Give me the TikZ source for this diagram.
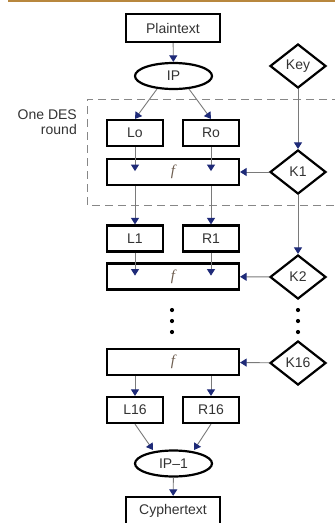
\documentclass[tikz,border=0pt]{standalone}
\usepackage{fontspec}
\setmainfont{Liberation Sans}
\newfontfamily\fserif{Liberation Serif}
\usetikzlibrary{arrows.meta,shapes.geometric}
\definecolor{gold}{HTML}{B8873E}
\definecolor{navy}{HTML}{1E2A78}
\definecolor{lgray}{HTML}{7A7A7A}
\definecolor{txt}{HTML}{333333}
\definecolor{fcol}{HTML}{6E5E50}
\begin{document}
\begin{tikzpicture}[x=1pt,y=-1pt,
  box/.style={draw=black,line width=2.2pt,rectangle,inner sep=0pt,text=txt,font=\fontsize{14}{16}\selectfont},
  sbox/.style={box,minimum width=56pt,minimum height=26pt},
  fbox/.style={box,minimum width=132pt,minimum height=26pt,font=\fserif\itshape\fontsize{15}{16}\selectfont,text=fcol},
  tbox/.style={box,minimum width=94pt,minimum height=28pt},
  ell/.style={draw=black,line width=2.2pt,ellipse,inner sep=0pt,minimum width=77pt,minimum height=26pt,text=txt,font=\fontsize{14}{16}\selectfont},
  dia/.style={draw=black,line width=2.2pt,diamond,inner sep=0pt,minimum width=56pt,minimum height=44pt,text=txt,font=\fontsize{14}{16}\selectfont},
  conn/.style={draw=lgray,line width=0.9pt,-{Triangle[width=8pt,length=6.5pt,color=navy]}},
  dot/.style={circle,fill=black,inner sep=0pt,minimum size=4.2pt}
]
\path[use as bounding box,clip] (0,0) rectangle (335,523);
\fill[white] (0,0) rectangle (335,523);
\draw[gold,line width=1.6pt] (8,0.8) -- (335,0.8);

% dashed round frame
\draw[draw=lgray!90,line width=1pt,dash pattern=on 8pt off 5pt] (340,99) -- (87,99) -- (87,205) -- (340,205);
\node[align=right,text=txt,font=\fontsize{14}{15}\selectfont,anchor=east,inner sep=0pt] (lbl) at (77,122) {One DES\\round};

\node[tbox] (plain) at (173,28) {Plaintext};
\node[ell] (ip) at (173.5,76) {IP};
\node[dia] (key) at (298,66) {Key};

\node[sbox] (l0) at (135,133) {Lo};
\node[sbox] (r0) at (211,133) {Ro};
\node[fbox] (f1) at (173,172) {f};
\node[dia] (k1) at (298,172) {K1};

\node[sbox] (l1) at (135,238.5) {L1};
\node[sbox] (r1) at (211,238.5) {R1};
\node[fbox] (f2) at (173,276.5) {f};
\node[dia] (k2) at (298,277) {K2};

\node[dot] (d1) at (172,310) {};
\node[dot] (d2) at (172,321) {};
\node[dot] (d3) at (172,332) {};
\node[dot] (e1) at (298,310) {};
\node[dot] (e2) at (298,321) {};
\node[dot] (e3) at (298,332) {};

\node[fbox] (f3) at (173,362) {f};
\node[dia] (k16) at (298,363) {K16};

\node[sbox] (l16) at (135,410) {L16};
\node[sbox] (r16) at (211,410) {R16};
\node[ell] (ipi) at (173.5,463.5) {IP–1};
\node[tbox] (cyph) at (173,511) {Cyphertext};

% connector end points
\coordinate (ipa) at (157,89);
\coordinate (ipb) at (189,89);
\coordinate (ipc) at (153,450);
\coordinate (ipd) at (194,450);
\path (l0.south) ++(0,24) coordinate (t1);
\path (r0.south) ++(0,24) coordinate (t2);
\path (l1.south) ++(0,23) coordinate (t3);
\path (r1.south) ++(0,23) coordinate (t4);

% connectors
\draw[conn] (plain) -- (ip);
\draw[conn] (ipa) -- (l0.north);
\draw[conn] (ipb) -- (r0.north);
\draw[conn] (key) -- (k1);
\draw[conn] (k1) -- (f1);
\draw[conn] (l0.south) -- (t1);
\draw[conn] (r0.south) -- (t2);
\draw[conn] (f1.south -| l0) -- (l1.north);
\draw[conn] (f1.south -| r0) -- (r1.north);
\draw[conn] (k1) -- (k2);
\draw[conn] (l1.south) -- (t3);
\draw[conn] (r1.south) -- (t4);
\draw[conn] (k2) -- (f2);
\draw[conn] (k16) -- (f3);
\draw[conn] (f3.south -| l16) -- (l16.north);
\draw[conn] (f3.south -| r16) -- (r16.north);
\draw[conn] (l16.south) -- (ipc);
\draw[conn] (r16.south) -- (ipd);
\draw[conn] (ipi) -- (cyph);
\end{tikzpicture}
\end{document}
